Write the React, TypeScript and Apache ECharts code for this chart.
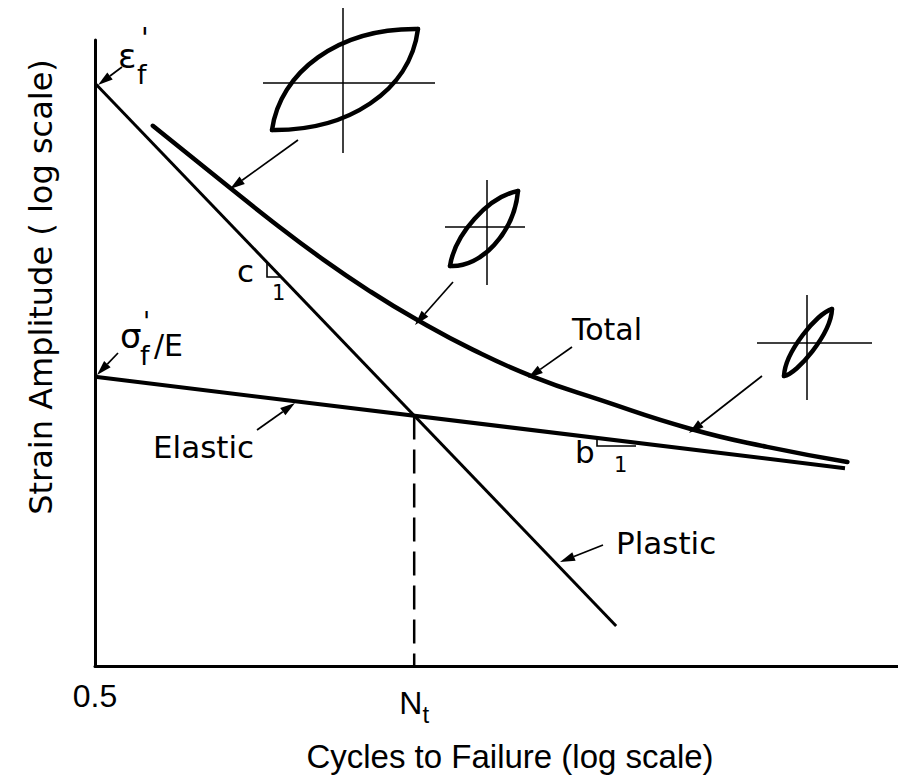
import React, { useEffect, useRef } from "react";
import * as echarts from "echarts";

// ---- data (abstract log-log units: x 0..100, y 0..100) ----
const plasticX = [0, 64.9];
const plasticY = [93.1, 6.4];
const elasticX = [0, 93.4];
const elasticY = [46.2, 31.6];
const totalX = [7.2, 16.8, 22.2, 27.7, 34.2, 40.1, 47.1, 54.6, 62.9, 74.1, 83.7, 93.7];
const totalY = [86.3, 76.4, 70.9, 65.6, 59.9, 55.3, 50.5, 46.2, 42.5, 37.9, 35.0, 32.6];
const transitionX = 39.75;
const transitionY = 40.0;
const xTickValues = [0, transitionX];
const xTickLabels = ["0.5", "N_t"];
const xAxisTitle = "Cycles to Failure (log scale)";
const yAxisTitle = "Strain Amplitude ( log scale)";
const seriesNames = ["Plastic", "Elastic", "Total"];

const LETTER = "DejaVu Sans";
const HELV = "Liberation Sans";

function zip(xs: number[], ys: number[]) {
  return xs.map((x, i) => [x, ys[i]]);
}

function arrow(x1: number, y1: number, x2: number, y2: number, head = 15, half = 4.5) {
  const dx = x2 - x1, dy = y2 - y1;
  const L = Math.hypot(dx, dy);
  const ux = dx / L, uy = dy / L;
  const bx = x2 - ux * head, by = y2 - uy * head;
  return [
    { type: "line", shape: { x1, y1, x2: bx, y2: by }, style: { stroke: "#000", lineWidth: 1.7 } },
    {
      type: "polygon",
      shape: { points: [[x2, y2], [bx - uy * half, by + ux * half], [bx + uy * half, by - ux * half]] },
      style: { fill: "#000" },
    },
  ];
}

function loop(
  a: number[], b: number[], up1: number[], up2: number[], lo1: number[], lo2: number[],
  cx: number, cy: number, vTop: number, vBot: number, hL: number, hR: number
) {
  return [
    { type: "line", shape: { x1: cx, y1: vTop, x2: cx, y2: vBot }, style: { stroke: "#000", lineWidth: 1.5 } },
    { type: "line", shape: { x1: hL, y1: cy, x2: hR, y2: cy }, style: { stroke: "#000", lineWidth: 1.5 } },
    {
      type: "bezierCurve",
      shape: { x1: a[0], y1: a[1], cpx1: up1[0], cpy1: up1[1], cpx2: up2[0], cpy2: up2[1], x2: b[0], y2: b[1] },
      style: { stroke: "#000", lineWidth: 4.5, fill: null, lineCap: "round" },
    },
    {
      type: "bezierCurve",
      shape: { x1: a[0], y1: a[1], cpx1: lo1[0], cpy1: lo1[1], cpx2: lo2[0], cpy2: lo2[1], x2: b[0], y2: b[1] },
      style: { stroke: "#000", lineWidth: 4.5, fill: null, lineCap: "round" },
    },
  ];
}

function txt(text: string, x: number, y: number, size: number, family = LETTER, align = "left") {
  return {
    type: "text",
    x,
    y,
    style: { text, fontSize: size, fontFamily: family, fill: "#000", align, verticalAlign: "middle" },
  };
}

export default function App() {
  const ref = useRef<HTMLDivElement>(null);
  useEffect(() => {
    document.body.style.margin = "0";
    if (!ref.current) return;
    const chart = echarts.init(ref.current, null, { renderer: "svg" });

    const graphics: any[] = [
      // hysteresis loops
      ...loop([272, 130], [418, 29], [280, 72], [338, 28], [347, 131], [410, 92], 343, 83, 8, 153, 263, 435),
      ...loop([450, 266], [518, 191], [455, 234], [488, 197], [481, 268], [514, 233], 487, 227, 180, 285, 445, 525),
      ...loop([784, 376], [832, 309], [785, 352], [817, 313], [797, 374], [831, 334], 807, 343, 295, 400, 757, 872),
      // arrows
      ...arrow(122, 67, 98, 85),
      ...arrow(118, 353, 97, 375),
      ...arrow(298, 140, 230, 189),
      ...arrow(453, 282, 415, 325),
      ...arrow(572, 347, 528, 378),
      ...arrow(762, 376, 689, 433),
      ...arrow(257, 430, 295, 403),
      ...arrow(603, 545, 560, 562),
      // slope triangles
      { type: "polyline", shape: { points: [[267, 263], [267, 277], [282, 277]] }, style: { stroke: "#000", lineWidth: 1.6, fill: null } },
      { type: "polyline", shape: { points: [[597, 438], [597, 446], [636, 446]] }, style: { stroke: "#000", lineWidth: 1.6, fill: null } },
      // labels
      txt("ε", 118, 56, 34),
      txt("f", 137, 74, 27),
      txt("'", 141, 38, 28),
      txt("σ", 120, 336, 34),
      txt("f", 140, 355, 27),
      txt("'", 143, 322, 26),
      txt("/E", 154, 345, 30),
      txt("c", 237, 271, 31),
      txt("1", 272, 293, 21),
      txt("b", 575, 452, 31),
      txt("1", 614, 465, 21),
      txt(seriesNames[2], 572, 329, 30),
      txt(seriesNames[1], 153, 447, 31),
      txt(seriesNames[0], 616, 543, 31),
    ];

    chart.setOption({
      animation: false,
      backgroundColor: "#fff",
      grid: { left: 95, right: 0, top: 40, bottom: 112, outerBoundsMode: "none" },
      xAxis: {
        type: "value",
        min: 0,
        max: 100,
        name: xAxisTitle,
        nameLocation: "middle",
        nameGap: 74,
        nameTextStyle: { fontSize: 33, fontFamily: HELV, color: "#000", padding: [0, 0, 0, 27] },
        axisLine: { show: true, lineStyle: { color: "#000", width: 3 } },
        axisTick: { show: false },
        splitLine: { show: false },
        axisLabel: {
          customValues: xTickValues,
          margin: 14,
          color: "#000",
          fontSize: 32,
          fontFamily: HELV,
          formatter: (v: number) => {
            const i = xTickValues.indexOf(v);
            const s = i >= 0 ? xTickLabels[i] : "";
            if (s.includes("_")) {
              const [m, sub] = s.split("_");
              return `{n|${m}}{t|${sub}}`;
            }
            return s;
          },
          rich: {
            n: { fontSize: 32, fontFamily: HELV, color: "#000" },
            t: { fontSize: 24, fontFamily: HELV, color: "#000", padding: [22, 0, 0, 0] },
          },
        },
      },
      yAxis: {
        type: "value",
        min: 0,
        max: 100,
        name: yAxisTitle,
        nameLocation: "middle",
        nameGap: 38,
        nameTextStyle: { fontSize: 32, fontFamily: LETTER, color: "#000", padding: [0, 0, 0, 132] },
        axisLine: { show: true, lineStyle: { color: "#000", width: 3 } },
        axisTick: { show: false },
        axisLabel: { show: false },
        splitLine: { show: false },
      },
      series: [
        {
          name: seriesNames[0],
          type: "line",
          data: zip(plasticX, plasticY),
          symbol: "none",
          lineStyle: { color: "#000", width: 3 },
        },
        {
          name: seriesNames[1],
          type: "line",
          data: zip(elasticX, elasticY),
          symbol: "none",
          lineStyle: { color: "#000", width: 4 },
        },
        {
          name: seriesNames[2],
          type: "line",
          data: zip(totalX, totalY),
          symbol: "none",
          smooth: 0.5,
          lineStyle: { color: "#000", width: 4.5, cap: "round" },
        },
        {
          name: "Nt",
          type: "line",
          data: [[transitionX, transitionY], [transitionX, 0]],
          symbol: "none",
          lineStyle: { color: "#000", width: 2.5, type: [24, 10] },
        },
      ],
      graphic: graphics,
    });
    return () => chart.dispose();
  }, []);
  return <div ref={ref} style={{ width: 898, height: 778 }} />;
}
